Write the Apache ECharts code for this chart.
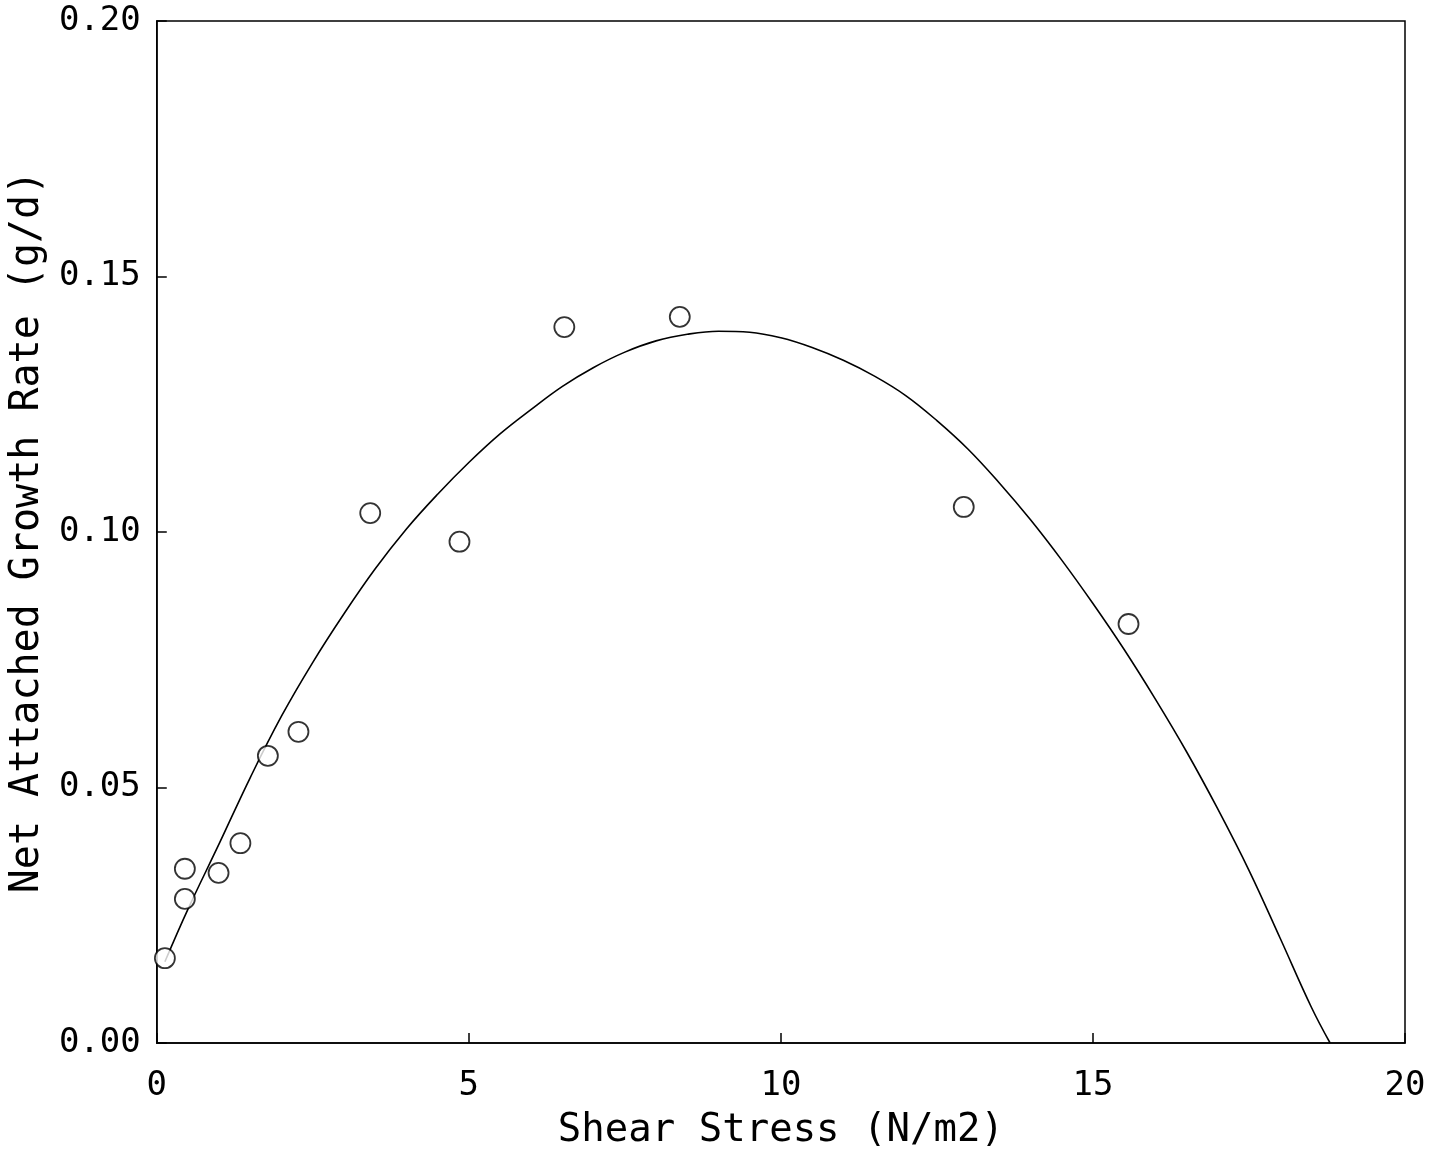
<!DOCTYPE html>
<html lang="en">
<head>
  <meta charset="UTF-8" />
  <title>Net Attached Growth Rate vs Shear Stress</title>
  <script src="https://cdn.jsdelivr.net/npm/echarts@6/dist/echarts.min.js"></script>
  <style>
    html, body { margin: 0; padding: 0; background: #fff; }
    #chart { width: 1430px; height: 1158px; }
  </style>
</head>
<body>
  <div id="chart"></div>
  <script>
    // measured points (circles)
    var obsX = [0.13, 0.45, 0.45, 0.99, 1.34, 1.78, 2.27, 3.42, 4.85, 6.53, 8.38, 12.93, 15.57];
    var obsY = [0.0166, 0.0282, 0.0341, 0.0333, 0.0391, 0.0562, 0.0609, 0.1037, 0.0981, 0.1401, 0.1421, 0.1049, 0.0820];

    // fitted curve
    var fitX = [0.13, 0.5, 1.0, 1.5, 2.0, 2.5, 3.0, 3.5, 4.0, 4.5, 5.0, 5.5, 6.0, 6.5, 7.0, 7.5, 8.0, 8.5, 9.0, 9.5,
                10.0, 10.5, 11.0, 11.5, 12.0, 12.5, 13.0, 13.5, 14.0, 14.5, 15.0, 15.5, 16.0, 16.5, 17.0, 17.5, 18.0, 18.5, 18.8];
    var fitY = [0.0159, 0.0262, 0.0390, 0.0520, 0.0640, 0.0745, 0.0840, 0.0928, 0.1006, 0.1074, 0.1136, 0.1192, 0.1240, 0.1285, 0.1322, 0.1352, 0.1374, 0.1387, 0.1393, 0.1391,
                0.1380, 0.1361, 0.1336, 0.1305, 0.1267, 0.1218, 0.1162, 0.1096, 0.1024, 0.0945, 0.0860, 0.0770, 0.0673, 0.0570, 0.0458, 0.0338, 0.0205, 0.0070, 0.0];

    var xTicks = [0, 5, 10, 15, 20];
    var yTicks = ["0.00", "0.05", "0.10", "0.15", "0.20"];

    var font = "DejaVu Sans Mono";

    function $_(id) {
      return document.getElementById(id);
    }

    var chart = echarts.init($_("chart"));

    chart.setOption({
      animation: false,
      backgroundColor: "#fff",
      grid: {
        left: 155, right: 25, top: 21, bottom: 115,
        show: true, borderColor: "#000", borderWidth: 1.5
      },
      xAxis: {
        type: "value", min: 0, max: 20, interval: 5,
        name: "Shear Stress (N/m2)", nameLocation: "middle", nameGap: 68,
        nameTextStyle: { fontFamily: font, fontSize: 39, color: "#000" },
        axisLine: { lineStyle: { color: "#000", width: 1.5 } },
        axisTick: { inside: true, length: 10, lineStyle: { color: "#000", width: 1.5 } },
        axisLabel: {
          fontFamily: font, fontSize: 34, color: "#000", margin: 26,
          formatter: function (v) { return xTicks.indexOf(v) >= 0 ? String(v) : ""; }
        },
        splitLine: { show: false }
      },
      yAxis: {
        type: "value", min: 0, max: 0.2, interval: 0.05,
        name: "Net Attached Growth Rate (g/d)", nameLocation: "middle", nameGap: 96, nameRotate: 90,
        nameTextStyle: { fontFamily: font, fontSize: 40, color: "#000" },
        axisLine: { lineStyle: { color: "#000", width: 1.5 } },
        axisTick: { inside: true, length: 10, lineStyle: { color: "#000", width: 1.5 } },
        axisLabel: {
          fontFamily: font, fontSize: 34, color: "#000", margin: 16,
          formatter: function (v) { return yTicks[Math.round(v / 0.05)]; }
        },
        splitLine: { show: false }
      },
      series: [
        {
          type: "line",
          data: fitX.map(function (x, i) { return [x, fitY[i]]; }),
          smooth: 0.4,
          showSymbol: false,
          lineStyle: { color: "#000", width: 1.6 },
          z: 2
        },
        {
          type: "scatter",
          data: obsX.map(function (x, i) { return [x, obsY[i]]; }),
          symbol: "circle",
          symbolSize: 20,
          itemStyle: { color: "#fff", borderColor: "#000", borderWidth: 1.8 },
          z: 3
        }
      ]
    });
  </script>
</body>
</html>
